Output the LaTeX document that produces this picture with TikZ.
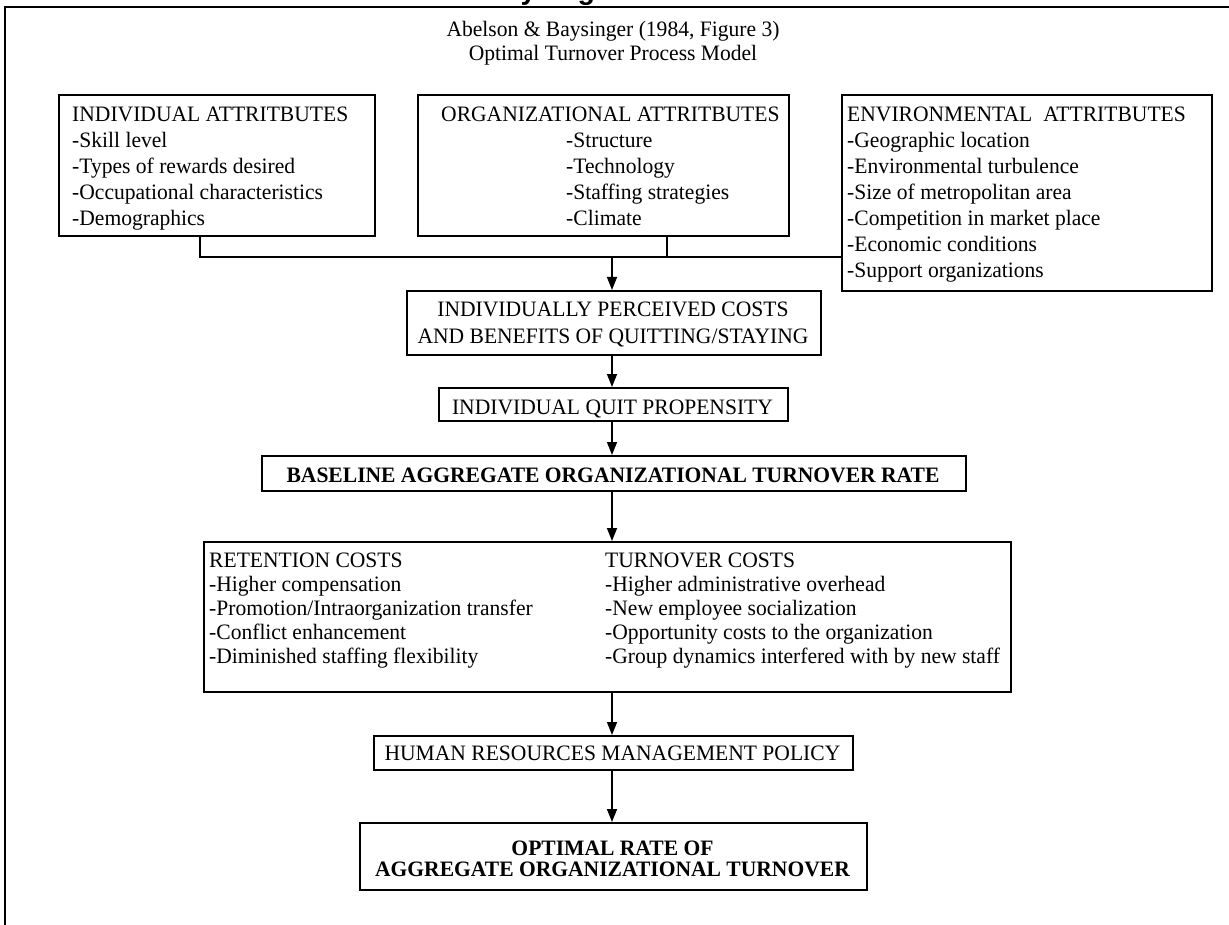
\documentclass[tikz,border=0pt]{standalone}
\usepackage{fontspec}
\setmainfont{Liberation Serif}[FakeStretch=0.98]
\newfontfamily\headsans{Liberation Sans}
\usetikzlibrary{arrows.meta}

\begin{document}
\begin{tikzpicture}[x=1pt,y=-1pt,
  box/.style={draw, line width=1.8pt, inner sep=0pt, anchor=north west},
  txt/.style={inner sep=0pt, font=\fontsize{22}{24}\selectfont},
  btxt/.style={inner sep=0pt, font=\fontsize{22}{24}\selectfont\bfseries},
  conn/.style={line width=1.5pt},
  arr/.style={line width=1.5pt, -{Triangle[length=13pt,width=10pt]}},
  frame/.style={line width=1.6pt}]
\useasboundingbox (0,0) rectangle (1229,925);

% heading of the page, cut by the upper edge
\begin{scope}
  \clip (0,0) rectangle (1229,7);
  \node[inner sep=0pt, anchor=base west, font=\headsans\bfseries\fontsize{28.5}{30}\selectfont] (head) at (484,0) {Baysinger};
\end{scope}

% page frame
\draw[frame] (5,925) -- (5,7) -- (1229,7);

% title
\node[txt, anchor=base] (t1) at (613,37) {Abelson \& Baysinger (1984, Figure 3)};
\node[txt, anchor=base] (t2) at (613,61) {Optimal Turnover Process Model};

% attribute boxes
\node[box, minimum width=316pt, minimum height=141pt] (ia) at (58,94) {};
\node[box, minimum width=371pt, minimum height=141pt] (oa) at (417,94) {};
\node[box, minimum width=370pt, minimum height=196pt] (ea) at (841,94) {};

\foreach \t [count=\i from 0] in {INDIVIDUAL ATTRITBUTES, -Skill level, -Types of rewards desired, -Occupational characteristics, -Demographics}
  \node[txt, anchor=base west] (ia-\i) at (72,122+26*\i) {\t};

\node[txt, anchor=base west] (oa-0) at (441,122) {ORGANIZATIONAL ATTRITBUTES};
\foreach \t [count=\i from 1] in {-Structure, -Technology, -Staffing strategies, -Climate}
  \node[txt, anchor=base west] (oa-\i) at (566,122+26*\i) {\t};

\node[txt, anchor=base west] (ea-0) at (847,122) {ENVIRONMENTAL\hspace{0.5em}ATTRITBUTES};
\foreach \t [count=\i from 1] in {-Geographic location, -Environmental turbulence, -Size of metropolitan area, -Competition in market place, -Economic conditions, -Support organizations}
  \node[txt, anchor=base west] (ea-\i) at (847,122+26*\i) {\t};

% process chain
\node[box, minimum width=414pt, minimum height=64pt] (ipc) at (406,290) {};
\node[txt, anchor=base] (ipc-1) at (613,317) {INDIVIDUALLY PERCEIVED COSTS};
\node[txt, anchor=base] (ipc-2) at (613,343) {AND BENEFITS OF QUITTING/STAYING};

\node[box, minimum width=349pt, minimum height=33pt] (iqp) at (438,387) {};
\node[txt, anchor=base] (iqp-t) at (612.5,414) {INDIVIDUAL QUIT PROPENSITY};

\node[box, minimum width=704pt, minimum height=35pt] (bao) at (261,455) {};
\node[btxt, anchor=base] (bao-t) at (613,482) {BASELINE AGGREGATE ORGANIZATIONAL TURNOVER RATE};

\node[box, minimum width=807pt, minimum height=150pt] (cost) at (203,541) {};
\foreach \t [count=\i from 0] in {RETENTION COSTS, -Higher compensation, -Promotion/Intraorganization transfer, -Conflict enhancement, -Diminished staffing flexibility}
  \node[txt, anchor=base west] (rc-\i) at (209,567+24*\i) {\t};
\foreach \t [count=\i from 0] in {TURNOVER COSTS, -Higher administrative overhead, -New employee socialization, -Opportunity costs to the organization, -Group dynamics interfered with by new staff}
  \node[txt, anchor=base west] (tc-\i) at (605,567+24*\i) {\t};

\node[box, minimum width=479pt, minimum height=34pt] (hrm) at (373,735) {};
\node[txt, anchor=base] (hrm-t) at (612.5,760) {HUMAN RESOURCES MANAGEMENT POLICY};

\node[box, minimum width=507pt, minimum height=67pt] (opt) at (359,822) {};
\node[btxt, anchor=base] (opt-1) at (612.5,855) {OPTIMAL RATE OF};
\node[btxt, anchor=base] (opt-2) at (612.5,876) {AGGREGATE ORGANIZATIONAL TURNOVER};

% connectors
\coordinate (jl) at (200,257);
\coordinate (jo) at (667,257);
\coordinate (jm) at (612,257);
\draw[conn] (ia.south -| jl) -- (jl) -- (ea.west |- jl);
\draw[conn] (oa.south -| jo) -- (jo);
\draw[arr] (jm) -- (ipc.north -| jm);
\draw[arr] (ipc.south -| jm) -- (iqp.north -| jm);
\draw[arr] (iqp.south -| jm) -- (bao.north -| jm);
\draw[arr] (bao.south -| jm) -- (cost.north -| jm);
\draw[arr] (cost.south -| jm) -- (hrm.north -| jm);
\draw[arr] (hrm.south -| jm) -- (opt.north -| jm);
\end{tikzpicture}
\end{document}
